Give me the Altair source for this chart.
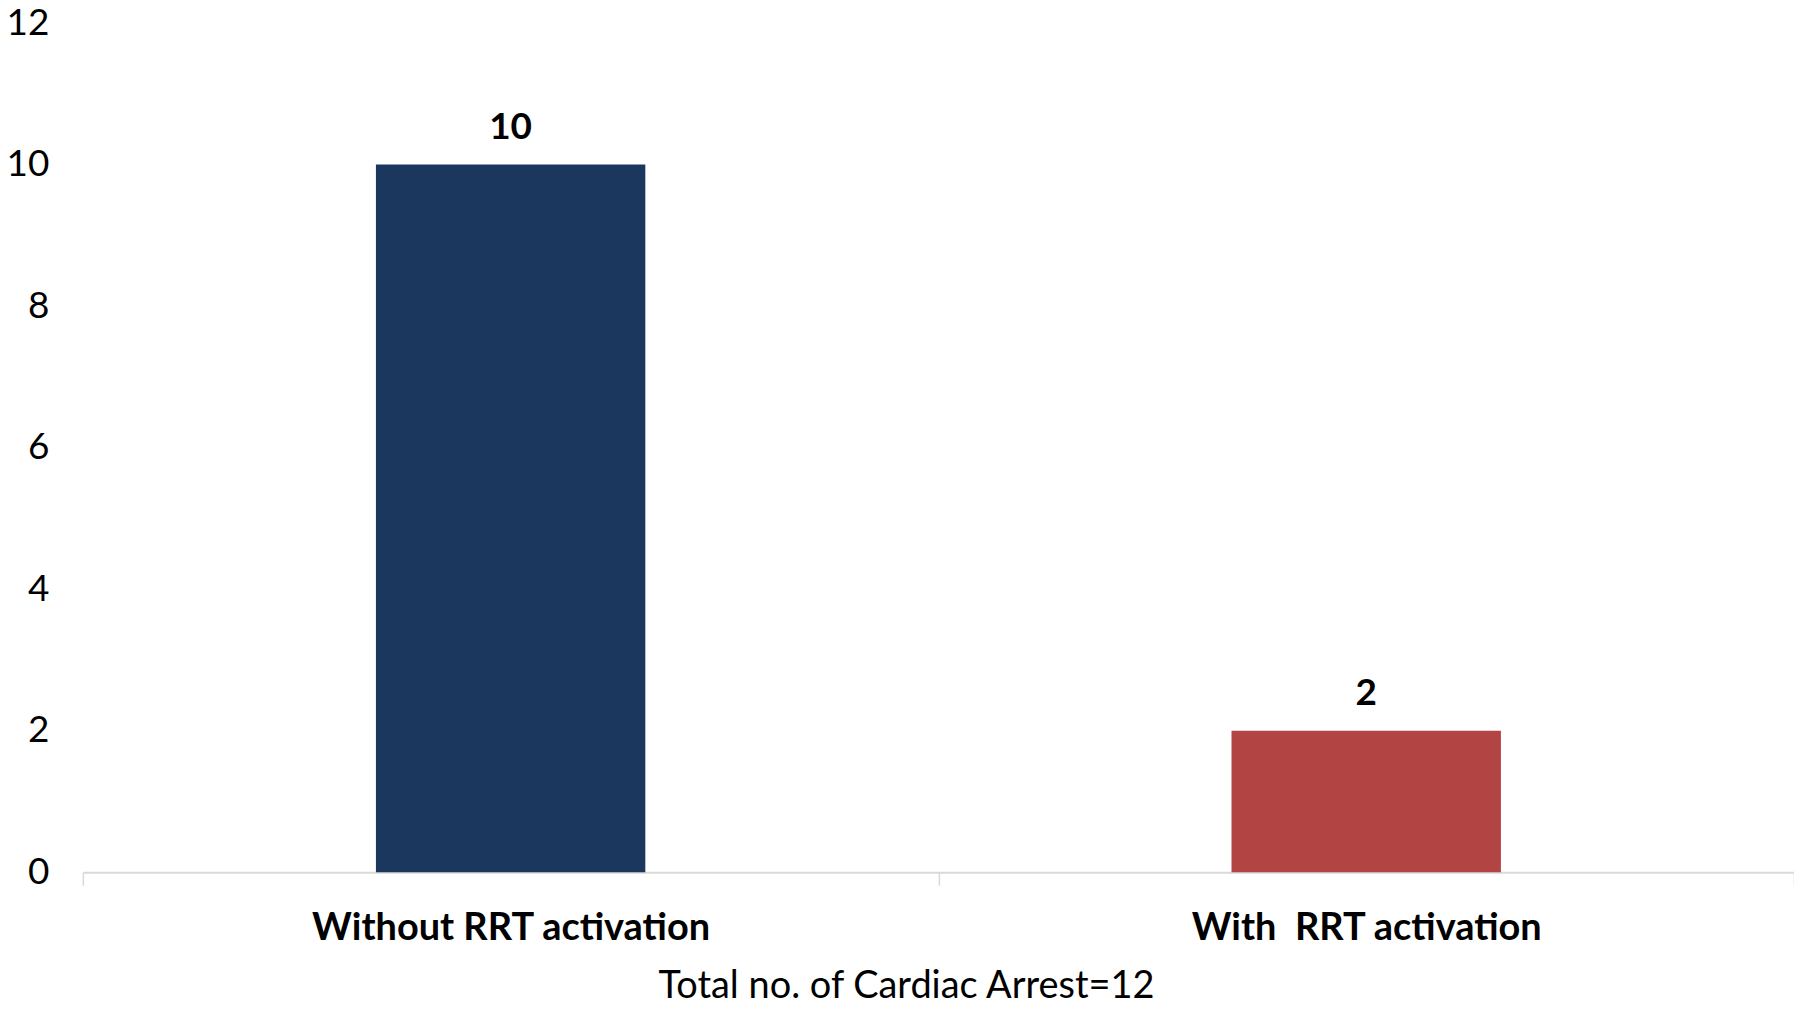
import altair as alt
import pandas as pd

categories = ["Without RRT activation", "With\u00a0 RRT activation"]
values = [10, 2]
colors = ["#1b375e", "#b24443"]
y_ticks = [0, 2, 4, 6, 8, 10, 12]

df = pd.DataFrame({"cat": categories, "val": values, "col": colors})

FONT = "Lato"

x_enc = alt.X(
    "cat:N",
    sort=categories,
    scale=alt.Scale(paddingInner=0, paddingOuter=0),
    axis=alt.Axis(
        title="Total no. of Cardiac Arrest=12",
        titleFont=FONT,
        titleFontSize=38,
        titleFontWeight="normal",
        titleColor="#000000",
        titleX=825,
        titleY=115,
        titleAlign="center",
        titleBaseline="middle",
        labelFont=FONT,
        labelFontSize=38,
        labelFontWeight="bold",
        labelColor="#000000",
        labelAngle=0,
        labelPadding=24,
        labelBaseline="top",
        labelLimit=0,
        domainColor="#d9d9d9",
        domainWidth=2,
        tickColor="#d9d9d9",
        tickWidth=1.5,
        tickSize=13,
        tickBand="extent",
        grid=False,
    ),
)

y_enc = alt.Y(
    "val:Q",
    scale=alt.Scale(domain=[0, 12], nice=False),
    axis=alt.Axis(
        title=None,
        values=y_ticks,
        format="d",
        labelFont=FONT,
        labelFontSize=37,
        labelColor="#000000",
        labelPadding=34,
        domain=False,
        ticks=False,
        grid=False,
    ),
)

bars = alt.Chart(df).mark_bar(size=270).encode(
    x=x_enc,
    y=y_enc,
    color=alt.Color("col:N", scale=None),
)

text = alt.Chart(df).mark_text(
    font=FONT, fontSize=37, fontWeight="bold", color="#000000",
    baseline="middle", dy=-37
).encode(
    x=alt.X("cat:N", sort=categories),
    y=alt.Y("val:Q"),
    text=alt.Text("val:Q"),
)

chart = alt.layer(bars, text).properties(
    width=1715,
    height=851,
    padding={"left": 75, "top": 14, "right": 0, "bottom": 130},
    autosize=alt.AutoSizeParams(type="none"),
    background="white",
).configure_view(stroke=None, strokeWidth=0)

chart.save("out.html", embed_options={"renderer": "svg", "actions": False})
